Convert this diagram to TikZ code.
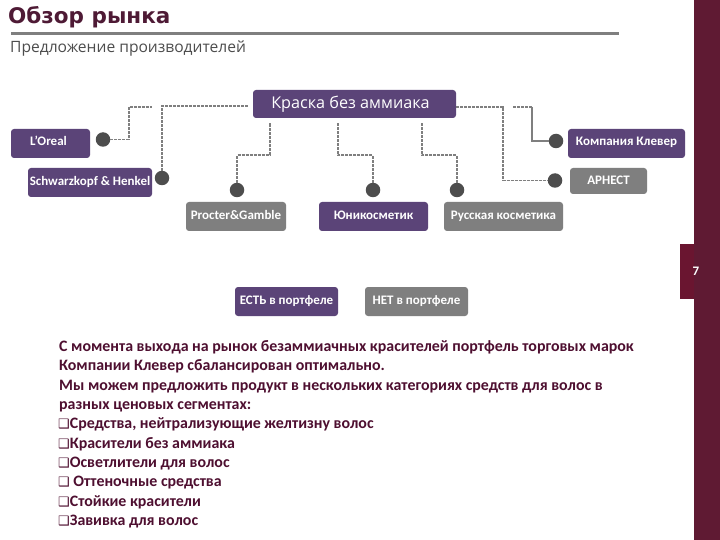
\documentclass[tikz,border=0pt]{standalone}
\usepackage{fontspec}
\setmainfont{Carlito}
\newfontfamily\djv{DejaVu Sans}
\newfontfamily\ops{Open Sans}
\usetikzlibrary{calc}
\definecolor{pur}{HTML}{5B4478}
\definecolor{gry}{HTML}{7F7F7F}
\definecolor{wine}{HTML}{5F1A33}
\definecolor{tabc}{HTML}{6A1530}
\definecolor{ttl}{HTML}{4E1A35}
\definecolor{bodyc}{HTML}{4E0F30}
\definecolor{sub}{HTML}{4D4D4D}
\definecolor{dotc}{HTML}{4D4D4D}
\newcommand{\lab}[2][-2.5pt]{\raisebox{#1}[0pt][0pt]{#2}}
\newcommand{\chk}{\smash{\djv\mdseries\fontsize{13}{12}\selectfont\hspace*{-1pt}❑}}
\tikzset{
  box/.style={rectangle,rounded corners=3pt,inner sep=0pt,text=white,font=\bfseries\fontsize{13}{14}\selectfont},
  pbox/.style={box,fill=pur},
  gbox/.style={box,fill=gry},
  dotn/.style={circle,fill=dotc,inner sep=0pt,minimum size=14.5pt},
  conn/.style={draw=gry,line width=1.5pt,dash pattern=on 3pt off 1pt},
}
\begin{document}
\begin{tikzpicture}[x=1pt,y=-1pt]
\useasboundingbox (0,0) rectangle (720,540);
\fill[white] (0,0) rectangle (720,540);
% band
\fill[wine] (694,0) rectangle (720,540);
\node[fill=tabc,minimum width=14pt,minimum height=55pt,inner sep=0pt,anchor=north west] (tab) at (680,244) {};
\node[text=white,font=\bfseries\fontsize{13}{14}\selectfont] (num) at (696,271) {7};
% heading
\node[anchor=base west,inner sep=0pt,text=ttl,font=\djv\bfseries\fontsize{21.5}{24}\selectfont] (title) at (8,24) {Обзор рынка};
\fill[gry] (11,32.3) rectangle (619,34.8);
\node[anchor=base west,inner sep=0pt,text=sub,font=\ops\fontsize{15.6}{18}\selectfont] (subtitle) at (10,53) {Предложение производителей};
% boxes
\node[pbox,minimum width=203pt,minimum height=28pt,font=\ops\fontsize{16.2}{18}\selectfont] (top) at (354.5,104) {\hspace*{-8pt}\lab[-5pt]{Краска без аммиака}};
\node[pbox,minimum width=79pt,minimum height=29pt,text width=79pt,align=left] (loreal) at (50.5,143.5) {\hspace*{19pt}\lab{L’Oreal}};
\node[pbox,minimum width=124pt,minimum height=29pt] (schw) at (90,182.5) {\lab{Schwarzkopf \& Henkel}};
\node[gbox,minimum width=100pt,minimum height=29pt] (pg) at (236,216.5) {\lab{Procter\&Gamble}};
\node[pbox,minimum width=109pt,minimum height=29pt] (uni) at (373.5,216.5) {\lab{Юникосметик}};
\node[gbox,minimum width=119pt,minimum height=29pt] (rus) at (503.5,216.5) {\lab{Русская косметика}};
\node[pbox,minimum width=117pt,minimum height=29pt] (klv) at (626.5,143.5) {\lab{Компания Клевер}};
\node[gbox,minimum width=77pt,minimum height=26pt] (arn) at (608.5,181) {\lab[-3.5pt]{АРНЕСТ}};
\node[pbox,minimum width=103pt,minimum height=29pt] (yes) at (286.5,301.5) {\lab[-2.5pt]{ЕСТЬ в портфеле}};
\node[gbox,minimum width=103pt,minimum height=29pt] (no) at (416.5,301.5) {\lab[-2.5pt]{НЕТ в портфеле}};
% dots
\node[dotn] (d1) at (103,139.5) {};
\node[dotn] (d2) at (162,178) {};
\node[dotn] (d3) at (237,190) {};
\node[dotn] (d4) at (373,190) {};
\node[dotn] (d5) at (457,190) {};
\node[dotn] (d6) at (556,141) {};
\node[dotn] (d7) at (555,180.5) {};
\coordinate (fl) at (152,107);
\coordinate (fr) at (513,107);
% connectors
\draw[conn] (d1.east) -| (129,107) -- (fl);
\draw[conn,shorten <=5pt] ($(top.west)+(0,2)$) -| (d2.north);
\draw[conn,shorten >=5pt] (d3.north) |- ($(top.south west)+(17,37)$) -- ($(top.south west)+(17,0)$);
\draw[conn,shorten >=5pt] (d4.north) |- ($(top.south west)+(85,37)$) -- ($(top.south west)+(85,0)$);
\draw[conn,shorten >=5pt] (d5.north) |- ($(top.south west)+(169,37)$) -- ($(top.south west)+(169,0)$);
\draw[conn] ($(top.east)+(0,3)$) -| (503,180.5) -- (d7.west);
\draw[conn] (fr) -- (532,107);
\draw[draw=gry,line width=1.5pt] (532,107) |- (d6.west);
% body text
\node[anchor=north west,inner sep=0pt,text=bodyc,align=left,font=\bfseries\fontsize{15.9}{19.3}\selectfont] (body) at (59,340.5) {С момента выхода на рынок безаммиачных красителей портфель торговых марок\\
Компании Клевер сбалансирован оптимально.\\
Мы можем предложить продукт в нескольких категориях средств для волос в\\
разных ценовых сегментах:\\
\chk Средства, нейтрализующие желтизну волос\\
\chk Красители без аммиака\\
\chk Осветлители для волос\\
\chk{} Оттеночные средства\\
\chk Стойкие красители\\
\chk Завивка для волос};
\end{tikzpicture}
\end{document}
